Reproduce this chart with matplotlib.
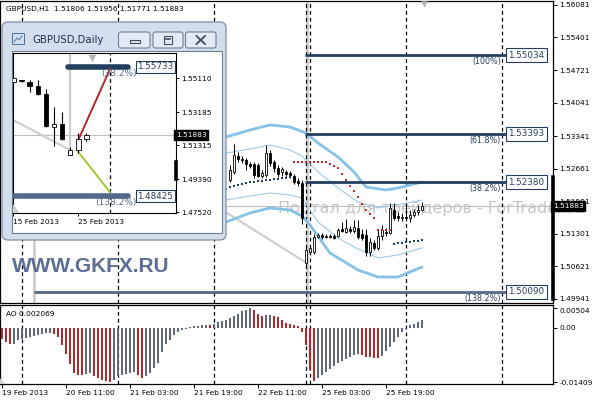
import matplotlib
matplotlib.use("Agg")
import matplotlib.pyplot as plt
from matplotlib.patches import FancyBboxPatch, Rectangle, Polygon
from matplotlib.transforms import blended_transform_factory
import numpy as np

plt.rcParams['font.family'] = ['DejaVu Sans']

# ---------------- data ----------------
title_text = "GBPUSD,H1  1.51806 1.51956 1.51771 1.51883"
last_price = 1.51883

# H1 candles (bar index of first visible candle, then OHLC)
h1_first_bar = 57
h1_open = [1.52426, 1.52593, 1.52927, 1.52864, 1.52843, 1.52760, 1.52760, 1.52739, 1.52509, 1.52530,
           1.52989, 1.52801, 1.52676, 1.52593, 1.52593, 1.52572, 1.52509, 1.52405, 1.52363, 1.50693,
           1.50922, 1.50922, 1.51235, 1.51277, 1.51256, 1.51256, 1.51256, 1.51256, 1.51402, 1.51340,
           1.51402, 1.51361, 1.51423, 1.51298, 1.51277, 1.50922, 1.51110, 1.51006, 1.51256, 1.51340,
           1.51319, 1.51799, 1.51674, 1.51632, 1.51653, 1.51632, 1.51695, 1.51757, 1.51806]
h1_close = [1.52634, 1.52948, 1.52864, 1.52843, 1.52760, 1.52718, 1.52530, 1.52509, 1.52572, 1.52989,
            1.52781, 1.52676, 1.52551, 1.52655, 1.52551, 1.52530, 1.52384, 1.52363, 1.51632, 1.50964,
            1.51006, 1.51235, 1.51277, 1.51235, 1.51245, 1.51235, 1.51215, 1.51382, 1.51361, 1.51423,
            1.51361, 1.51444, 1.51235, 1.51215, 1.50922, 1.51131, 1.51006, 1.51256, 1.51382, 1.51319,
            1.51841, 1.51632, 1.51632, 1.51653, 1.51632, 1.51695, 1.51757, 1.51799, 1.51883]
h1_high = [1.52739, 1.53177, 1.53010, 1.52927, 1.52885, 1.52801, 1.52801, 1.52781, 1.52634, 1.53156,
           1.53052, 1.52843, 1.52739, 1.52697, 1.52634, 1.52614, 1.52551, 1.52467, 1.52426, 1.51048,
           1.51068, 1.51298, 1.51319, 1.51319, 1.51298, 1.51298, 1.51298, 1.51423, 1.51549, 1.51611,
           1.51465, 1.51590, 1.51590, 1.51402, 1.51402, 1.51215, 1.51173, 1.51382, 1.51486, 1.51423,
           1.51945, 1.51945, 1.51757, 1.51737, 1.51945, 1.51799, 1.51820, 1.51904, 1.51956]
h1_low = [1.52384, 1.52551, 1.52801, 1.52781, 1.52634, 1.52676, 1.52467, 1.52488, 1.52467, 1.52488,
          1.52718, 1.52593, 1.52488, 1.52509, 1.52488, 1.52467, 1.52342, 1.52300, 1.51507, 1.50630,
          1.50880, 1.50880, 1.51215, 1.51194, 1.51215, 1.51215, 1.51194, 1.51235, 1.51340, 1.51319,
          1.51319, 1.51319, 1.51194, 1.51173, 1.50839, 1.50839, 1.50964, 1.50964, 1.51173, 1.51256,
          1.51298, 1.51590, 1.51570, 1.51570, 1.51570, 1.51549, 1.51653, 1.51695, 1.51771]

# Bollinger bands (bar index, price)
bb_outer_up_bars = [56, 62, 67, 72, 76, 79, 84, 88, 91, 96, 99, 105]
bb_outer_up = [1.53323, 1.53470, 1.53574, 1.53532, 1.53407, 1.53198, 1.52906, 1.52593, 1.52279, 1.52217, 1.52259, 1.52384]
bb_inner_up_bars = [56, 62, 67, 72, 75, 79, 84, 89, 94, 100, 105]
bb_inner_up = [1.52989, 1.53073, 1.53156, 1.53052, 1.52927, 1.52593, 1.52259, 1.51966, 1.51841, 1.51924, 1.52008]
bb_inner_lo_bars = [56, 62, 67, 72, 75, 79, 84, 89, 94, 99, 105]
bb_inner_lo = [1.52008, 1.52091, 1.52154, 1.52113, 1.52050, 1.51549, 1.51215, 1.50985, 1.50797, 1.50860, 1.51006]
bb_outer_lo_bars = [56, 62, 67, 72, 75, 77, 82, 89, 94, 99, 105]
bb_outer_lo = [1.51549, 1.51737, 1.51841, 1.51799, 1.51674, 1.51486, 1.50901, 1.50546, 1.50400, 1.50400, 1.50609]

# Parabolic SAR dots
sar_blue1_first = 56
sar_blue1 = [1.52238, 1.52279, 1.52300, 1.52321, 1.52342, 1.52363, 1.52384, 1.52384, 1.52405, 1.52405,
             1.52426, 1.52426, 1.52446, 1.52446, 1.52467, 1.52467, 1.52488]
sar_red_first = 73
sar_red = [1.52801, 1.52801, 1.52801, 1.52801, 1.52801, 1.52801, 1.52801, 1.52801, 1.52801, 1.52760,
           1.52718, 1.52676, 1.52551, 1.52426, 1.52300, 1.52196, 1.52071, 1.51924, 1.51799, 1.51716,
           1.51632, 1.51382, 1.51382, 1.51382, 1.51382]
sar_blue2_first = 98
sar_blue2 = [1.51089, 1.51110, 1.51110, 1.51131, 1.51131, 1.51152, 1.51152, 1.51173]

# Fibonacci levels (H1)
fib_levels = [1.55034, 1.53393, 1.52380, 1.50090]
fib_names = ["(100%)", "(61.8%)", "(38.2%)", "(138.2%)"]

# period separators (bar index)
sep_bars = [5, 29, 53, 76, 77, 101, 125]

main_ticks = [1.56081, 1.55401, 1.54721, 1.54041, 1.53341, 1.52661, 1.51981, 1.51301, 1.50621, 1.49941]

# Awesome oscillator
ao_values = [-0.0028, -0.0036, -0.0041, -0.0041, -0.0032, -0.0030, -0.0026, -0.0023, -0.0021, -0.0019,
             -0.0016, -0.0014, -0.0013, -0.0017, -0.0023, -0.0045, -0.0067, -0.0094, -0.0116, -0.0121,
             -0.0122, -0.0120, -0.0116, -0.0125, -0.0130, -0.0134, -0.0137, -0.01409, -0.0134, -0.0125,
             -0.0121, -0.0120, -0.0116, -0.0115, -0.0121, -0.0130, -0.0125, -0.0116, -0.0103, -0.0090,
             -0.0063, -0.0041, -0.0032, -0.0019, -0.0010, -0.0005, -0.0003, 0.0002, 0.0004, 0.0006,
             0.0007, 0.0008, 0.0007, 0.0011, 0.0014, 0.0017, 0.0021, 0.0026, 0.0031, 0.0037,
             0.0043, 0.0047, 0.00504, 0.0046, 0.0037, 0.0031, 0.0033, 0.0034, 0.0031, 0.0027,
             0.0020, 0.0012, 0.0010, 0.0007, 0.0004, -0.0012, -0.0045, -0.0110, -0.0138, -0.0129,
             -0.0121, -0.0113, -0.0106, -0.0099, -0.0092, -0.0086, -0.0081, -0.0076, -0.0071, -0.0068,
             -0.0071, -0.0074, -0.0076, -0.0078, -0.0079, -0.0072, -0.0061, -0.0049, -0.0036, -0.0023,
             -0.0012, -0.0002, 0.0007, 0.0011, 0.0015, 0.002069]
ao_ticks = [0.00504, 0.0, -0.01409]
ao_tick_labels = ["0.00504", "0.00", "-0.01409"]
time_label_bars = [0, 16, 32, 48, 64, 80, 96]
time_labels = ["19 Feb 2013", "20 Feb 11:00", "21 Feb 03:00", "21 Feb 19:00",
               "22 Feb 11:00", "25 Feb 03:00", "25 Feb 19:00"]

# Daily inset
d1_open = [1.54884, 1.54970, 1.54884, 1.54657, 1.54204, 1.52337, 1.52506, 1.50752, 1.51035, 1.51657]
d1_close = [1.55110, 1.54912, 1.54657, 1.54204, 1.52393, 1.52506, 1.51657, 1.51035, 1.51657, 1.51883]
d1_high = [1.55450, 1.54997, 1.54997, 1.54997, 1.54487, 1.53469, 1.53186, 1.51205, 1.51997, 1.51997]
d1_low = [1.54714, 1.54884, 1.54318, 1.54148, 1.52337, 1.51261, 1.51601, 1.50752, 1.50865, 1.51544]
d1_ticks = [1.55110, 1.53185, 1.51315, 1.49390, 1.47520]
d1_label_bars = [0, 8]
d1_labels = ["15 Feb 2013", "25 Feb 2013"]
d1_fib_levels = [1.55733, 1.48425]
d1_fib_names = ["(38.2%)", "(138.2%)"]

# ---------------- styling ----------------
W, H = 596.0, 400.0
FS = 5.3
NAVY = '#243f5e'
SLATE = '#53698a'
BB = '#86c2e6'
BB_THIN = '#9ccbe6'
GRAYL = '#cdcdcd'
RED = '#b3272a'
AOGRAY = '#5d6977'
DASH = (0, (3, 2.5))

fig = plt.figure(figsize=(5.96, 4.0), dpi=100)
fig.patch.set_facecolor('white')


def px_axes(x0, y0, x1, y1, z=0):
    a = fig.add_axes([x0 / W, 1 - y1 / H, (x1 - x0) / W, (y1 - y0) / H])
    a.set_zorder(z)
    return a


def candles(a, xs, o, h, l, c, width, lw=0.7, z=5):
    o = np.asarray(o); h = np.asarray(h); l = np.asarray(l); c = np.asarray(c)
    a.vlines(xs, l, h, color='black', lw=lw, zorder=z)
    bull = c >= o
    bottom = np.minimum(o, c)
    height = np.maximum(np.abs(c - o), 0.00012)
    a.bar(xs, height, width=width, bottom=bottom,
          color=np.where(bull, 'white', 'black'), edgecolor='black', lw=0.6, zorder=z + 0.1)


# watermark behind main chart
fig.text(278 / W, 1 - 209 / H, "Портал для трейдеров - ForTrader.ru", fontsize=11.5,
         color='#c6c6c6', ha='left', va='center', zorder=-1)

# ---------------- main H1 chart ----------------
ax = px_axes(0, 1, 553, 303, 1)
ax.set_facecolor('none')
ax.set_xlim(-0.5, 137.75)
ax.set_ylim(1.49857, 1.56163)
for s in ax.spines.values():
    s.set_linewidth(0.9)
ax.set_xticks([])
ax.yaxis.tick_right()
ax.set_yticks(main_ticks)
ax.set_yticklabels([f"{v:.5f}" for v in main_ticks])
ax.tick_params(axis='y', length=3, width=0.7, pad=1.5, labelsize=FS)

xs = np.arange(h1_first_bar, h1_first_bar + len(h1_open))

ax.axhline(last_price, color='#c0c0c0', lw=0.8, zorder=1)
for b in sep_bars:
    ax.axvline(b, color='black', lw=0.9, ls=DASH, zorder=2)
ax.axvline(76.25, color=GRAYL, lw=2, zorder=1.5)
ax.plot([8, 8], [1.5200, 1.49857], color=GRAYL, lw=2, zorder=1.5)
ax.plot([45, 75.75], [1.52327, 1.50714], color=GRAYL, lw=1.5, zorder=1.5)

ax.plot(bb_outer_up_bars, bb_outer_up, color=BB, lw=2, zorder=3, solid_capstyle='round')
ax.plot(bb_outer_lo_bars, bb_outer_lo, color=BB, lw=2, zorder=3, solid_capstyle='round')
ax.plot(bb_inner_up_bars, bb_inner_up, color=BB_THIN, lw=0.8, zorder=3)
ax.plot(bb_inner_lo_bars, bb_inner_lo, color=BB_THIN, lw=0.8, zorder=3)

# fib lines
fib_start = [75.75, 75.75, 75.75, 8]
for lvl, name, st in zip(fib_levels, fib_names, fib_start):
    col = SLATE if name == "(138.2%)" else NAVY
    ax.plot([st, 126.5], [lvl, lvl], color=col, lw=2, zorder=4, solid_capstyle='butt')
    ax.text(126.5, lvl, f"{lvl:.5f}", ha='left', va='center', fontsize=6.3, color=NAVY,
            bbox=dict(boxstyle='square,pad=0.28', fc='white', ec=NAVY, lw=0.8), zorder=6)
    ax.text(124.7, lvl - 0.0004, name, ha='right', va='top', fontsize=FS + 0.5, color=NAVY, zorder=6)

candles(ax, xs, h1_open, h1_high, h1_low, h1_close, width=0.55, z=5)

sz = 3.2
ax.scatter(np.arange(sar_blue1_first, sar_blue1_first + len(sar_blue1)), sar_blue1, s=sz,
           marker='s', color=NAVY, lw=0, zorder=7)
ax.scatter(np.arange(sar_red_first, sar_red_first + len(sar_red)), sar_red, s=sz,
           marker='s', color='#d2262b', lw=0, zorder=7)
ax.scatter(np.arange(sar_blue2_first, sar_blue2_first + len(sar_blue2)), sar_blue2, s=sz,
           marker='s', color=NAVY, lw=0, zorder=7)

ax.scatter([105.5], [1.5610], marker='v', s=22, color='#b5b5b5', lw=0, zorder=7, clip_on=False)

# right-side markers
ax.plot([137.75, 137.75], [1.49941, 1.52486], color='black', lw=2.6, zorder=8, clip_on=False)
ax.text(1.0, last_price, f"{last_price:.5f}", transform=blended_transform_factory(ax.transAxes, ax.transData),
        ha='left', va='center', fontsize=FS, color='white', zorder=9, clip_on=False,
        bbox=dict(boxstyle='square,pad=0.25', fc='black', ec='black'))

# ---------------- AO panel ----------------
ao = px_axes(0, 305, 553, 384, 1)
ao.set_xlim(-0.5, 137.75)
ao.set_ylim(-0.0145, 0.0059)
for s in ao.spines.values():
    s.set_linewidth(0.9)
ao_x = np.arange(len(ao_values))
ao_col = [RED] + [RED if ao_values[i] < ao_values[i - 1] else AOGRAY for i in range(1, len(ao_values))]
ao.bar(ao_x, ao_values, width=0.36, color=ao_col, zorder=3)
for b in sep_bars:
    ao.axvline(b, color='black', lw=0.9, ls=DASH, zorder=2)
ao.yaxis.tick_right()
ao.set_yticks(ao_ticks)
ao.set_yticklabels(ao_tick_labels)
ao.tick_params(axis='y', length=3, width=0.7, pad=1.5, labelsize=FS)
ao.get_yticklabels()[0].set_va('top')
ao.set_xticks(time_label_bars)
ao.set_xticklabels(time_labels)
ao.tick_params(axis='x', length=3, width=0.7, pad=1.5, labelsize=FS)
for t in ao.get_xticklabels():
    t.set_ha('left')
ao.text(0.011, 0.88, "AO 0.002069", transform=ao.transAxes, fontsize=FS, ha='left', va='center')
ao.add_patch(Polygon([[0, 0], [0.008, 0], [0, 0.06]], closed=True, transform=ao.transAxes,
                     color='#cfcfcf', zorder=4))

# title & watermark
fig.text(6 / W, 1 - 8.5 / H, title_text, fontsize=FS, ha='left', va='center', zorder=5)
fig.text(12 / W, 1 - 266 / H, "WWW.GKFX.RU", fontsize=15, fontweight='bold',
         family='Liberation Sans', color='#5b6e98', ha='left', va='center', zorder=5)

# ---------------- inset window chrome ----------------
ov = px_axes(0, 0, 596, 400, 10)
ov.set_xlim(0, W)
ov.set_ylim(H, 0)
ov.axis('off')
ov.add_patch(FancyBboxPatch((2, 22), 224, 218, boxstyle='round,pad=0,rounding_size=6',
                            fc='#d2deec', ec='#7d8fa6', lw=0.9))
ov.add_patch(Rectangle((11.5, 51), 210.5, 182, fc='white', ec='#6f7f93', lw=0.8))
# icon
ov.add_patch(Rectangle((12, 33), 12, 11, fc='#cfe0f2', ec='#4c6f99', lw=0.7))
ov.plot([14, 17, 19, 22], [42, 38, 40, 36], color='#4c6f99', lw=0.6)
ov.text(32, 40, "GBPUSD,Daily", fontsize=7.3, color='#1e3152', ha='left', va='center')
for bx0, bx1 in [(118.5, 150), (153, 183), (185.5, 216)]:
    ov.add_patch(FancyBboxPatch((bx0, 32), bx1 - bx0, 16, boxstyle='round,pad=0,rounding_size=2.5',
                                fc='#e3eaf4', ec='#6d8099', lw=0.8))
ov.add_patch(Rectangle((129.5, 40), 10, 3, fc='none', ec='#3b4d66', lw=0.8))
ov.add_patch(Rectangle((164, 36), 8, 8, fc='none', ec='#3b4d66', lw=0.8))
ov.plot([166, 170], [38.5, 38.5], color='#3b4d66', lw=1.2)
ov.plot([196.5, 205], [36, 44], color='#3b4d66', lw=1.3)
ov.plot([196.5, 205], [44, 36], color='#3b4d66', lw=1.3)

# ---------------- inset daily chart ----------------
ia = px_axes(13, 53, 176, 213, 11)
ia.set_facecolor('white')
ia.set_xlim(-0.06, 20.06)
ia.set_ylim(1.47469, 1.56525)
for s in ia.spines.values():
    s.set_linewidth(0.8)
ia.yaxis.tick_right()
ia.set_yticks(d1_ticks)
ia.set_yticklabels([f"{v:.5f}" for v in d1_ticks])
ia.tick_params(axis='y', length=2.5, width=0.7, pad=1.5, labelsize=FS)
ia.set_xticks(d1_label_bars)
ia.set_xticklabels(d1_labels)
ia.tick_params(axis='x', length=2.5, width=0.7, pad=1.5, labelsize=FS)
for t in ia.get_xticklabels():
    t.set_ha('left')

ia.axhline(last_price, color='#c0c0c0', lw=0.8, zorder=1)
ia.plot([7, 7], [1.56525, 1.5095], color=GRAYL, lw=1.6, zorder=1.5)
ia.plot([-0.06, 7], [1.52733, 1.51035], color=GRAYL, lw=1.5, zorder=1.5)
ia.axvline(11.9, color='black', lw=0.9, ls=DASH, zorder=2)
d1_start = [6.7, -0.06]
for lvl, name, st, col in zip(d1_fib_levels, d1_fib_names, d1_start, [NAVY, SLATE]):
    ia.plot([st, 14.1], [lvl, lvl], color=col, lw=4, zorder=3, solid_capstyle='round')
    ia.text(15.3, lvl, f"{lvl:.5f}", ha='left', va='center', fontsize=6.3, color=NAVY, clip_on=True,
            bbox=dict(boxstyle='square,pad=0.2', fc='white', ec=NAVY, lw=0.8), zorder=6)
    ia.text(15.2, lvl - 0.0011, name, ha='right', va='top', fontsize=FS + 1.2, color=SLATE, zorder=6)
ia.plot([8, 11.9], [1.51601, 1.5560], color=RED, lw=1.4, zorder=4)
ia.plot([8, 11.9], [1.50922, 1.48658], color='#9ccd2c', lw=1.4, zorder=4)
candles(ia, np.arange(len(d1_open)), d1_open, d1_high, d1_low, d1_close, width=0.55, lw=0.8, z=5)
ia.scatter([9.7], [1.5624], marker='v', s=30, color='#b5b5b5', lw=0, zorder=7)
ia.add_patch(Polygon([[0, 0], [0.035, 0], [0, 0.05]], closed=True, transform=ia.transAxes,
                     color='#cfcfcf', zorder=4))
ia.plot([20.06, 20.06], [1.49390, 1.50360], color='black', lw=2.6, zorder=8, clip_on=False)
ia.text(1.0, last_price, f"{last_price:.5f}", transform=blended_transform_factory(ia.transAxes, ia.transData),
        ha='left', va='center', fontsize=FS, color='white', zorder=9, clip_on=False,
        bbox=dict(boxstyle='square,pad=0.25', fc='black', ec='black'))

fig.savefig("out.png", dpi=100, facecolor='white')
